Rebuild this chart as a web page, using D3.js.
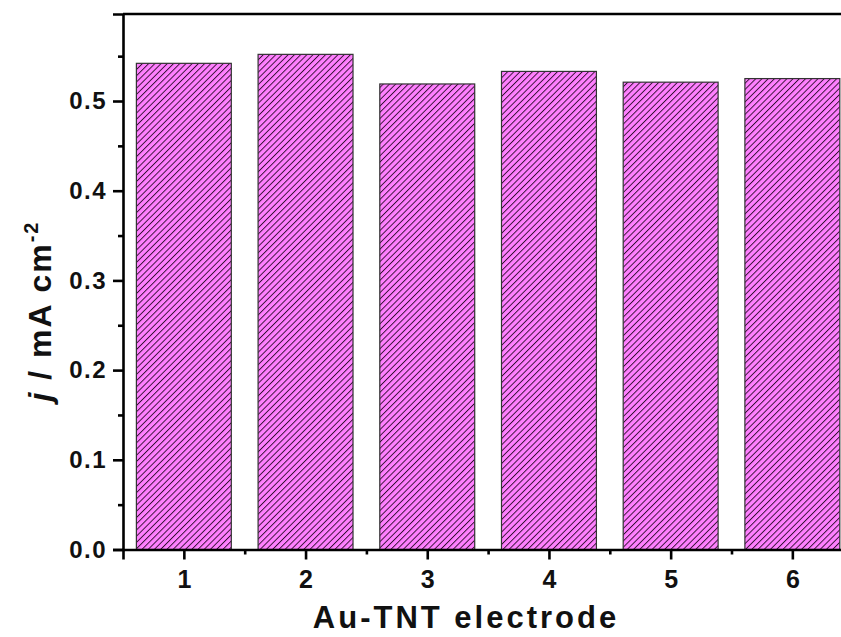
<!DOCTYPE html>
<html>
<head>
<meta charset="utf-8">
<script src="https://cdn.jsdelivr.net/npm/d3@7"></script>
<style>
  body { margin: 0; background: #fff; }
  text { font-family: "Liberation Sans", Arial, sans-serif; font-weight: bold; fill: #111; }
</style>
</head>
<body>
<div id="vis"></div>
<script>
var width = 841,
  height = 637;

// data
var electrodes = [ 1, 2, 3, 4, 5, 6 ];
var currents = [ 0.542, 0.552, 0.519, 0.533, 0.521, 0.525 ];
var yMajor = [ 0, 0.1, 0.2, 0.3, 0.4, 0.5 ];
var yMinor = [ 0.05, 0.15, 0.25, 0.35, 0.45, 0.55 ];
var xMinor = [ 1.5, 2.5, 3.5, 4.5, 5.5, 6.5 ];

var plotLeft = 123,
  plotTop = 14,
  plotBottom = 549.5,
  step = 121.7;

var x = d3.scaleLinear()
  .domain( [ 0.5, 6.5 ] )
  .range( [ plotLeft, plotLeft + 6 * step ] );

var y = d3.scaleLinear()
  .domain( [ 0, 0.597 ] )
  .range( [ plotBottom, plotTop ] );

var barWidth = 0.78 * step;

var svg = d3.select( '#vis' ).append( 'svg' )
  .attr( 'width', width )
  .attr( 'height', height );

// hatch pattern
var pat = svg.append( 'defs' ).append( 'pattern' )
  .attr( 'id', 'hatch' )
  .attr( 'patternUnits', 'userSpaceOnUse' )
  .attr( 'width', 4.4 )
  .attr( 'height', 10 )
  .attr( 'patternTransform', 'rotate(45)' );

pat.append( 'rect' )
  .attr( 'width', 4.4 )
  .attr( 'height', 10 )
  .attr( 'fill', '#ff80ff' );

pat.append( 'line' )
  .attr( 'x1', 0.5 ).attr( 'x2', 0.5 )
  .attr( 'y1', 0 ).attr( 'y2', 10 )
  .attr( 'stroke', '#2a0a28' )
  .attr( 'stroke-width', 0.9 );

// bars
svg.selectAll( 'rect.bar' )
  .data( electrodes )
  .enter().append( 'rect' )
    .attr( 'class', 'bar' )
    .attr( 'x', d => x( d ) - barWidth / 2 )
    .attr( 'y', ( d, i ) => y( currents[ i ] ) )
    .attr( 'width', barWidth )
    .attr( 'height', ( d, i ) => y( 0 ) - y( currents[ i ] ) )
    .attr( 'fill', 'url(#hatch)' )
    .attr( 'stroke', '#333' )
    .attr( 'stroke-width', 1.2 );

// axes
svg.append( 'g' )
  .attr( 'class', 'yaxis' )
  .attr( 'transform', 'translate(' + plotLeft + ',0)' )
  .call( d3.axisLeft( y ).tickValues( yMajor ).tickFormat( d3.format( '.1f' ) ).tickSize( 10 ).tickPadding( 6 ) );

svg.append( 'g' )
  .attr( 'transform', 'translate(' + plotLeft + ',0)' )
  .call( d3.axisLeft( y ).tickValues( yMinor ).tickFormat( '' ).tickSize( 5 ) )
  .call( g => g.select( '.domain' ).remove() );

svg.append( 'g' )
  .attr( 'class', 'xaxis' )
  .attr( 'transform', 'translate(0,' + plotBottom + ')' )
  .call( d3.axisBottom( x ).tickValues( electrodes ).tickFormat( d3.format( 'd' ) ).tickSize( 10 ).tickPadding( 11 ) );

svg.append( 'g' )
  .attr( 'transform', 'translate(0,' + plotBottom + ')' )
  .call( d3.axisBottom( x ).tickValues( xMinor ).tickFormat( '' ).tickSize( 5 ) )
  .call( g => g.select( '.domain' ).remove() );

svg.selectAll( '.domain' )
  .attr( 'stroke', '#000' )
  .attr( 'stroke-width', 2.6 );

svg.selectAll( '.tick line' )
  .attr( 'stroke', '#000' )
  .attr( 'stroke-width', 2.6 );

svg.selectAll( '.tick text' )
  .style( 'font-family', '"Liberation Sans", Arial, sans-serif' )
  .style( 'font-weight', 'bold' )
  .style( 'font-size', '24px' )
  .attr( 'fill', '#111' );

svg.selectAll( '.xaxis .tick text' )
  .style( 'font-size', '25px' );

svg.selectAll( '.yaxis .tick text' )
  .style( 'letter-spacing', '1.5px' );

// top frame
svg.append( 'line' )
  .attr( 'x1', plotLeft ).attr( 'x2', width + 20 )
  .attr( 'y1', plotTop ).attr( 'y2', plotTop )
  .attr( 'stroke', '#000' )
  .attr( 'stroke-width', 2.6 );

// axis titles
svg.append( 'text' )
  .attr( 'x', 466 )
  .attr( 'y', 628 )
  .attr( 'text-anchor', 'middle' )
  .style( 'font-size', '31px' )
  .style( 'letter-spacing', '3px' )
  .text( 'Au-TNT electrode' );

var yt = svg.append( 'text' )
  .attr( 'transform', 'translate(51,311) rotate(-90)' )
  .attr( 'text-anchor', 'middle' )
  .style( 'font-size', '32px' )
  .style( 'letter-spacing', '2px' );

yt.append( 'tspan' ).style( 'font-style', 'italic' ).text( 'j' );
yt.append( 'tspan' ).text( ' / mA cm' );
yt.append( 'tspan' ).attr( 'dy', -13 ).style( 'font-size', '20px' ).text( '-2' );
</script>
</body>
</html>
